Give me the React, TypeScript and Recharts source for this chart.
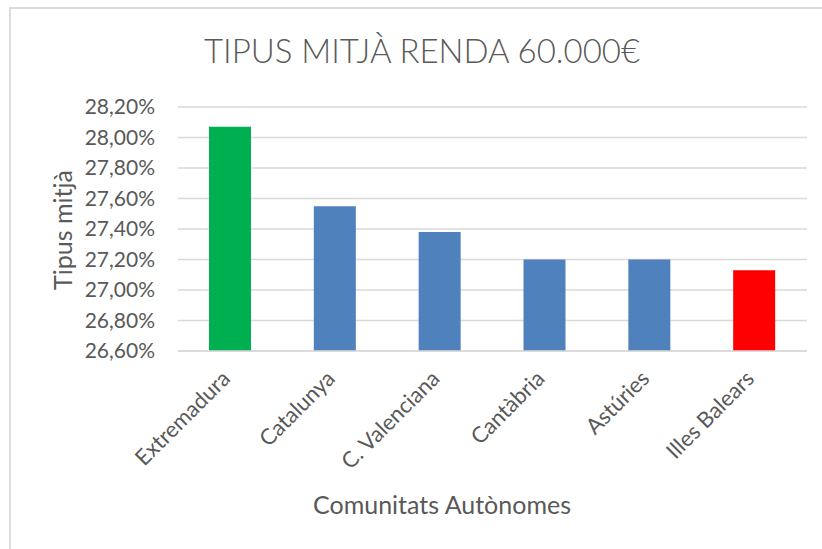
import { Bar, BarChart, CartesianGrid, Cell, XAxis, YAxis } from "recharts";

const regions = ["Extremadura", "Catalunya", "C. Valenciana", "Cantàbria", "Astúries", "Illes Balears"];
const rates = [28.07, 27.55, 27.38, 27.2, 27.2, 27.13];
const barColors = ["#00B050", "#4F81BD", "#4F81BD", "#4F81BD", "#4F81BD", "#FF0000"];
const yTicks = [26.6, 26.8, 27.0, 27.2, 27.4, 27.6, 27.8, 28.0, 28.2];

const data = regions.map((region, i) => ({ region, rate: rates[i] }));

const FONT = "Lato, 'Noto Sans', sans-serif";
const GREY = "#595959";

function fmtPct(v: number) {
  return `${v.toFixed(2).replace(".", ",")}%`;
}

function AngledTick({ x, y, payload }: any) {
  return (
    <g transform={`translate(${x + 1},${y + 21})`}>
      <text transform="rotate(-45)" textAnchor="end" fill={GREY} fontSize={22} fontFamily={FONT}>
        {payload.value}
      </text>
    </g>
  );
}

export default function App() {
  return (
    <div style={{ position: "fixed", inset: 0, background: "#fff", overflow: "hidden" }}>
      <div
        style={{
          position: "absolute",
          left: 9,
          top: 7,
          width: 900,
          height: 700,
          border: "2px solid #dcdcdc",
        }}
      />
      <div
        style={{
          position: "absolute",
          left: 0,
          top: 34,
          width: 844,
          textAlign: "center",
          fontFamily: FONT,
          fontWeight: 300,
          fontSize: 33,
          lineHeight: 1,
          color: GREY,
        }}
      >
        TIPUS MITJÀ RENDA 60.000€
      </div>
      <div
        style={{
          position: "absolute",
          left: 62,
          top: 230,
          transform: "translate(-50%, -50%) rotate(-90deg)",
          whiteSpace: "nowrap",
          fontFamily: FONT,
          fontSize: 25,
          lineHeight: 1,
          color: GREY,
        }}
      >
        Tipus mitjà
      </div>
      <div
        style={{
          position: "absolute",
          left: 0,
          top: 492,
          width: 884,
          textAlign: "center",
          fontFamily: FONT,
          fontSize: 25,
          lineHeight: 1,
          color: GREY,
        }}
      >
        Comunitats Autònomes
      </div>
      <div style={{ position: "absolute", left: 0, top: 0 }}>
        <BarChart width={822} height={549} data={data} margin={{ top: 107, right: 15, bottom: 8, left: 0 }}>
          <CartesianGrid vertical={false} stroke="#d9d9d9" strokeWidth={1.5} />
          <XAxis
            dataKey="region"
            interval={0}
            height={190}
            tickLine={false}
            axisLine={{ stroke: "#d9d9d9", strokeWidth: 1.5 }}
            tick={<AngledTick />}
          />
          <YAxis
            width={178}
            domain={[26.6, 28.2]}
            ticks={yTicks}
            tickFormatter={fmtPct}
            axisLine={false}
            tickLine={false}
            tickSize={0}
            tickMargin={23}
            tick={{ fill: GREY, fontSize: 21, fontFamily: FONT }}
          />
          <Bar dataKey="rate" barSize={42} isAnimationActive={false}>
            {data.map((row, i) => (
              <Cell key={row.region} fill={barColors[i]} />
            ))}
          </Bar>
        </BarChart>
      </div>
    </div>
  );
}
